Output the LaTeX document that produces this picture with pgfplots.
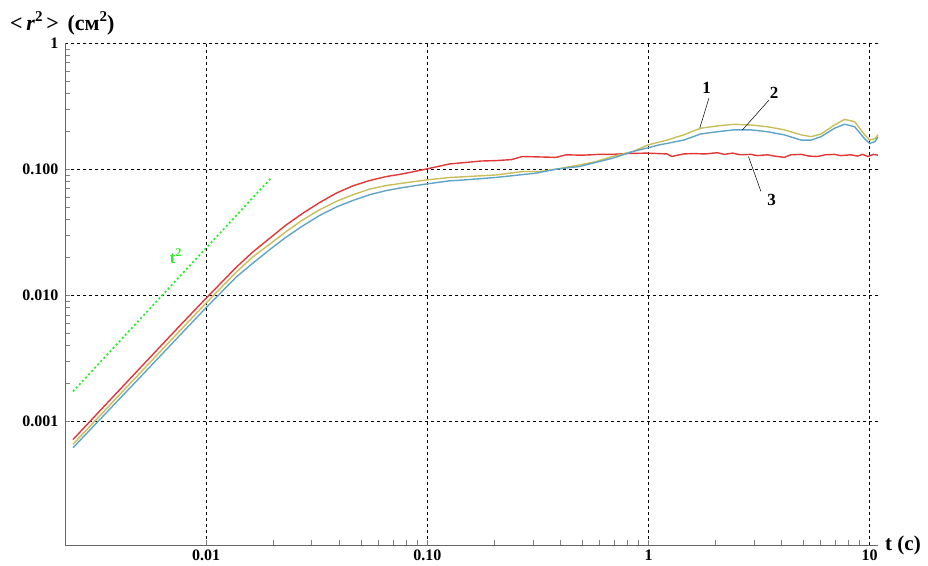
\documentclass[border=0pt]{standalone}
\usepackage{fontspec}
\setmainfont{Liberation Serif}
\usepackage{pgfplots}
\pgfplotsset{compat=1.18}
\definecolor{cred}{RGB}{225,55,55}
\definecolor{cyel}{RGB}{200,190,90}
\definecolor{cblu}{RGB}{95,165,200}
\definecolor{cgrn}{RGB}{40,235,40}
\newcommand{\sqr}{\raisebox{0.42em}{\fontsize{15}{15}\selectfont 2}}
\begin{document}
\begin{tikzpicture}
\begin{axis}[
  name=ax,
  scale only axis,
  width=813pt, height=502pt,
  xmode=log, ymode=log,
  xmin=0.0023, xmax=10.9,
  ymin=1.05e-4, ymax=1,
  axis x line*=bottom, axis y line*=left,
  axis line style={draw=black!60, line width=0.6pt},
  xtick={0.01,0.1,1,10}, xticklabels={0.01,0.10,1,10},
  ytick={0.001,0.01,0.1,1}, yticklabels={0.001,0.010,0.100,1},
  tick align=inside,
  major tick length=0pt, minor tick length=5pt,
  every tick/.style={draw=black!50, line width=0.5pt},
  grid=major,
  major grid style={dashed, black, line width=0.6pt},
  ticklabel style={font=\bfseries\fontsize{16}{16}\selectfont},
  /pgf/number format/assume math mode=true,
  xticklabel style={yshift=-1pt},
  yticklabel style={xshift=-3pt},
  clip=false,
]
% curve 3 (red)
\addplot[cred, line width=1.4pt] coordinates {
(0.0025,7.2e-4) (0.005,0.00263) (0.0075,0.0056) (0.01,0.0095) (0.01369,0.0167) (0.01627,0.0221)
(0.01936,0.0283) (0.02303,0.0362) (0.02738,0.0448) (0.03258,0.0544) (0.03877,0.0646)
(0.04607,0.0738) (0.05483,0.0813) (0.06522,0.0874) (0.07751,0.0918) (0.0999,0.1006)
(0.126,0.110) (0.1445,0.1125) (0.175,0.116)
(0.205,0.117) (0.24,0.119) (0.269,0.126) (0.32,0.125) (0.382,0.124) (0.425,0.130)
(0.5,0.129) (0.6,0.131) (0.687,0.131) (0.8,0.133) (0.975,0.134) (1.1,0.133)
(1.212,0.132) (1.277,0.126) (1.35,0.129) (1.443,0.132) (1.6,0.133) (1.8,0.132)
(2.046,0.135) (2.2,0.131) (2.4,0.134) (2.6,0.130) (2.9,0.131) (3.1,0.128)
(3.45,0.130) (3.7,0.127) (4.11,0.124) (4.4,0.130) (4.9,0.131) (5.3,0.127)
(5.8,0.126) (6.3,0.130) (6.93,0.131) (7.4,0.128) (8.2,0.130) (8.8,0.127)
(9.3,0.131) (9.8,0.126) (10.4,0.131) (10.9,0.129)
};
% curve 1 (yellow)
\addplot[cyel, line width=1.4pt] coordinates {
(0.0025,6.6e-4) (0.005,0.0024) (0.0075,0.0051) (0.01,0.0087) (0.01369,0.0153) (0.01627,0.0202)
(0.01936,0.0254) (0.02303,0.0321) (0.02738,0.0397) (0.03258,0.0477) (0.03877,0.0555)
(0.04607,0.0627) (0.05483,0.0695) (0.06522,0.0742) (0.07751,0.0775) (0.0999,0.0823)
(0.126,0.0859) (0.1445,0.0870) (0.205,0.0900) (0.269,0.0958) (0.321,0.0958)
(0.382,0.100) (0.488,0.108) (0.58,0.115) (0.687,0.126) (0.849,0.138) (1.0,0.156)
(1.212,0.170) (1.443,0.187) (1.718,0.211) (2.046,0.220) (2.434,0.227) (2.90,0.224)
(3.45,0.217) (4.11,0.205) (4.90,0.187) (5.43,0.181) (6.03,0.19) (6.93,0.224)
(7.70,0.248) (8.55,0.238) (9.49,0.187) (10.0,0.170) (10.54,0.174) (10.9,0.187)
};
% curve 2 (blue)
\addplot[cblu, line width=1.4pt] coordinates {
(0.0025,6.2e-4) (0.005,0.00222) (0.0075,0.0047) (0.01,0.0080) (0.01369,0.0140) (0.01627,0.0180)
(0.01936,0.0230) (0.02303,0.0290) (0.02738,0.0356) (0.03258,0.0430) (0.03877,0.0501)
(0.04607,0.0565) (0.05483,0.0627) (0.06522,0.0677) (0.07751,0.0715) (0.0999,0.0765)
(0.126,0.0808) (0.1445,0.082) (0.205,0.086) (0.31,0.093) (0.382,0.100) (0.488,0.105)
(0.687,0.122) (0.849,0.138) (1.0,0.148) (1.12,0.156) (1.212,0.160) (1.443,0.170)
(1.718,0.190) (2.046,0.198) (2.434,0.205) (2.90,0.205) (3.45,0.198) (4.11,0.187)
(4.90,0.170) (5.43,0.170) (6.03,0.181) (6.93,0.211) (7.70,0.227) (8.55,0.217)
(9.49,0.174) (10.0,0.160) (10.54,0.165) (10.9,0.179)
};
% t^2 guide
\addplot[cgrn, line width=1.7pt, dash pattern=on 2pt off 2.5pt] coordinates {
(0.0025,0.00173) (0.0195,0.0838)
};
\node[cgrn, font=\bfseries\fontsize{17}{17}\selectfont] at (axis cs:0.0073,0.0204) {t\textsuperscript{2}};
% labels
\draw[black, line width=0.5pt] (axis cs:1.875,0.365) -- (axis cs:1.706,0.212);
\node[font=\bfseries\fontsize{17}{17}\selectfont] at (axis cs:1.83,0.438) {1};
\draw[black, line width=0.5pt] (axis cs:3.51,0.354) -- (axis cs:2.66,0.205);
\node[font=\bfseries\fontsize{17}{17}\selectfont] at (axis cs:3.70,0.40) {2};
\draw[black, line width=0.5pt] (axis cs:2.83,0.126) -- (axis cs:3.22,0.0668);
\node[font=\bfseries\fontsize{17}{17}\selectfont] at (axis cs:3.60,0.0574) {3};
\end{axis}
\node[font=\bfseries\fontsize{22}{22}\selectfont, anchor=base west, inner sep=0pt] at ([shift={(-55pt,12pt)}]ax.north west) {<\,\textit{r}\sqr\,>\hspace{0.4em}(см\sqr)};
\node[font=\bfseries\fontsize{21}{21}\selectfont, anchor=west, inner sep=0pt] at ([shift={(7pt,0pt)}]ax.south east) {t (с)};
\pgfresetboundingbox
\path[use as bounding box] ([shift={(-65pt,-21pt)}]ax.south west) rectangle ([shift={(50pt,43pt)}]ax.north east);
\end{tikzpicture}
\end{document}
